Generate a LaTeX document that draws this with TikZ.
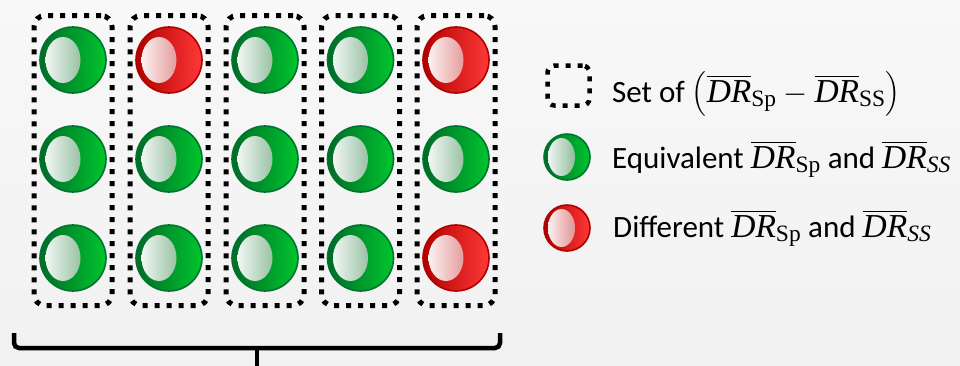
\RequirePackage{fix-cm}
\documentclass[tikz,border=0pt]{standalone}
\usepackage{amsmath}
\usepackage{fontspec}
\setmainfont{Carlito}
\newfontfamily\serfam{Liberation Serif}[Scale=1.08]
\newcommand{\DRbar}[1]{\overline{\text{\serfam\itshape DR}}_{\text{\serfam #1}}}
\definecolor{bgtop}{HTML}{F8F8F8}
\definecolor{bgbot}{HTML}{F1F1F1}
\definecolor{gL}{HTML}{006B29}
\definecolor{gR}{HTML}{00C52E}
\definecolor{gRim}{HTML}{00742F}
\definecolor{gShine}{HTML}{5A9C6C}
\definecolor{rL}{HTML}{B00000}
\definecolor{rR}{HTML}{FF3838}
\definecolor{rRim}{HTML}{B00000}
\definecolor{rShine}{HTML}{D45E5E}
\tikzset{
  setbox/.style={draw=black, line width=5pt, dash pattern=on 5pt off 7pt,
    rounded corners=11pt, inner sep=0pt},
  ballbase/.style={circle, inner sep=0pt, line width=1.6pt},
  shine/.style n args={4}{path picture={
      \shade[left color=white, right color=#1]
        ([xshift=#2]path picture bounding box.center)
        ellipse [x radius=#3, y radius=#4];}},
  gball/.style={ballbase, draw=gRim, left color=gL, right color=gR},
  rball/.style={ballbase, draw=rRim, left color=rL, right color=rR},
  bigball/.style={minimum size=66pt},
  smallball/.style={minimum size=46pt},
  bigg/.style={gball, bigball, shine={gShine}{-10pt}{17.5pt}{23pt}},
  bigr/.style={rball, bigball, shine={rShine}{-10pt}{17.5pt}{23pt}},
  smallg/.style={gball, smallball, shine={gShine}{-5.5pt}{13.5pt}{19pt}},
  smallr/.style={rball, smallball, shine={rShine}{-5.5pt}{13.5pt}{19pt}},
  legtext/.style={anchor=base west, inner sep=0pt,
    font=\fontsize{31}{36}\selectfont},
  brace/.style={line width=4.5pt, rounded corners=5pt}
}
\begin{document}
\begin{tikzpicture}[x=1pt, y=-1pt]
  % background
  \shade[top color=bgtop, bottom color=bgbot] (0,0) rectangle (960,365);
  \useasboundingbox (0,0) rectangle (960,365);

  % five sets, each a column of three balls
  \foreach \c/\x/\ka/\kb/\kc in {1/73/g/g/g, 2/169/r/g/g, 3/265/g/g/g,
                                 4/360.5/g/g/g, 5/456/r/g/r} {
    \node[setbox, minimum width=78pt, minimum height=290pt] (s\c) at (\x,160.5) {};
    \node[big\ka] (b\c1) at (\x,60) {};
    \node[big\kb] (b\c2) at (\x,159) {};
    \node[big\kc] (b\c3) at (\x,258) {};
  }

  % brace under the sets
  \coordinate (brL) at (14,333);
  \coordinate (brR) at (500,333);
  \coordinate (brM) at (257,348);
  \coordinate (brT) at (257,366);
  \draw[brace] (brL) -- (brL |- brM) -- (brR |- brM) -- (brR);
  \draw[line width=4.5pt] (brM) -- (brT);

  % legend
  \node[setbox, line width=4.5pt, rounded corners=7pt,
        minimum width=42pt, minimum height=40pt] (legset) at (568.5,85.5) {};
  \node[smallg] (leggreen) at (567,157) {};
  \node[smallr] (legred) at (567,228) {};

  \node[legtext] (tset) at (612,102)
    {Set of $\left(\DRbar{Sp}-\DRbar{SS}\right)$};
  \node[legtext] (teq) at (612,168)
    {Equivalent $\DRbar{Sp}$ and $\DRbar{\itshape SS}$};
  \node[legtext] (tdiff) at (613,237)
    {Different $\DRbar{Sp}$ and $\DRbar{\itshape SS}$};
\end{tikzpicture}
\end{document}
